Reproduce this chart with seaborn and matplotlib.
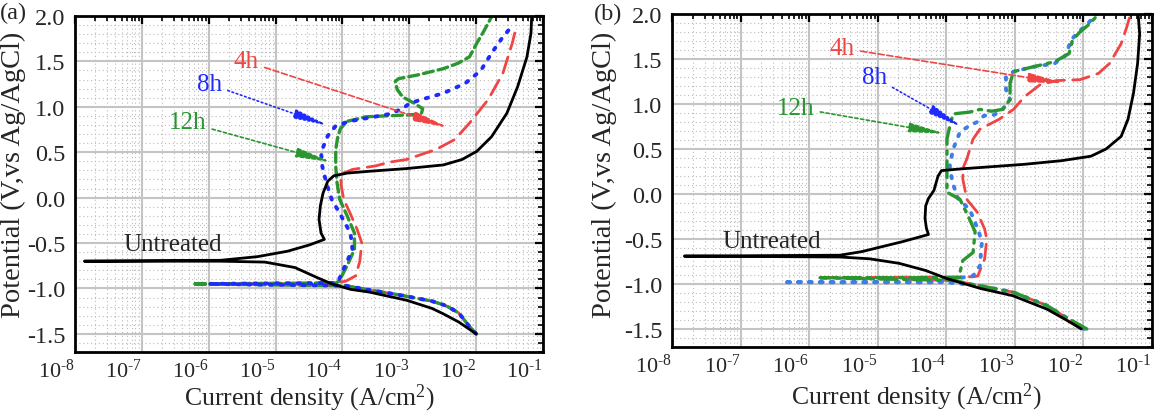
import numpy as np
import pandas as pd
import matplotlib
matplotlib.use('Agg')
import matplotlib.pyplot as plt
from matplotlib.ticker import LogLocator, MultipleLocator, FormatStrFormatter, NullFormatter
import seaborn as sns

sns.set_style('whitegrid')
plt.rcParams['font.family'] = ['Liberation Serif', 'DejaVu Serif']
plt.rcParams['mathtext.fontset'] = 'custom'
plt.rcParams['mathtext.rm'] = 'Liberation Serif'
plt.rcParams['mathtext.it'] = 'Liberation Serif:italic'
plt.rcParams['axes.unicode_minus'] = False

# ---- panel (a): log10 current density and potential (V) ----
unt_a_logi = [-2.0, -2.26, -2.49, -2.66, -3.04, -3.60, -3.88, -4.16, -4.38, -4.71, -5.16, -5.82, -7.86,
              -5.82, -5.27, -4.82, -4.49, -4.27, -4.32, -4.35, -4.33, -4.29, -4.22, -4.13, -3.93, -3.60,
              -3.04, -2.49, -2.21, -1.99, -1.77, -1.54, -1.38, -1.24, -1.18, -1.17]
unt_a_e = [-1.5, -1.37, -1.28, -1.22, -1.13, -1.04, -1.01, -0.95, -0.88, -0.77, -0.71, -0.70, -0.70,
           -0.69, -0.65, -0.59, -0.52, -0.46, -0.39, -0.24, -0.09, 0.05, 0.18, 0.24, 0.27, 0.29,
           0.32, 0.36, 0.42, 0.51, 0.67, 0.93, 1.22, 1.55, 1.81, 1.98]

red_a_logi = [-2.0, -2.1, -2.26, -2.45, -2.66, -3.16, -3.65, -3.95, -5.9, -4.1, -3.95, -3.80, -3.74, -3.71,
              -3.78, -3.88, -3.98, -4.02, -4.02, -3.85, -3.50, -3.30, -3.04, -2.60, -2.32, -2.10, -1.82,
              -1.60, -1.46, -1.40]
red_a_e = [-1.5, -1.42, -1.27, -1.19, -1.14, -1.07, -1.01, -0.97, -0.95, -0.94, -0.92, -0.86, -0.70, -0.50,
           -0.35, -0.18, -0.02, 0.14, 0.26, 0.31, 0.35, 0.39, 0.42, 0.53, 0.64, 0.82, 1.08,
           1.37, 1.70, 1.88]

blue_a_logi = [-2.0, -2.1, -2.26, -2.45, -2.66, -3.16, -3.65, -3.95, -6.0, -4.1, -4.05, -3.96, -3.85, -3.88,
               -4.02, -4.16, -4.24, -4.30, -4.32, -4.22, -4.10, -3.90, -3.60, -3.30, -3.10, -2.99, -2.77,
               -2.49, -2.16, -1.93, -1.77, -1.60, -1.45]
blue_a_e = [-1.5, -1.42, -1.27, -1.19, -1.14, -1.07, -1.01, -0.97, -0.95, -0.94, -0.90, -0.75, -0.57, -0.39,
            -0.20, -0.02, 0.16, 0.34, 0.50, 0.68, 0.79, 0.84, 0.88, 0.92, 0.98, 1.04, 1.09,
            1.15, 1.26, 1.40, 1.59, 1.77, 1.90]

green_a_logi = [-2.0, -2.1, -2.26, -2.45, -2.66, -3.16, -3.65, -3.95, -6.24, -4.1, -4.05, -3.93, -3.82, -3.82,
                -3.93, -4.04, -4.08, -4.10, -4.10, -4.07, -4.03, -3.93, -3.65, -3.35, -3.04, -2.82, -2.80,
                -2.93, -3.10, -3.18, -3.21, -3.16, -2.88, -2.49, -2.27, -2.10, -1.99, -1.88, -1.77]
green_a_e = [-1.5, -1.42, -1.27, -1.19, -1.14, -1.07, -1.01, -0.97, -0.95, -0.94, -0.92, -0.75, -0.57, -0.39,
             -0.20, -0.02, 0.16, 0.34, 0.53, 0.67, 0.76, 0.84, 0.89, 0.90, 0.91, 0.92, 0.98,
             1.04, 1.11, 1.19, 1.28, 1.31, 1.35, 1.42, 1.48, 1.55, 1.70, 1.84, 1.99]

# ---- panel (b) ----
unt_b_logi = [-2.03, -2.25, -2.53, -3.03, -3.50, -3.99, -4.30, -4.69, -5.12, -5.55, -7.82,
              -5.55, -5.23, -4.91, -4.64, -4.45, -4.26, -4.29, -4.31, -4.30, -4.26, -4.18, -4.12, -4.07,
              -3.77, -3.40, -2.86, -2.32, -1.89, -1.67, -1.45, -1.35, -1.27, -1.21, -1.18, -1.20]
unt_b_e = [-1.5, -1.40, -1.28, -1.13, -1.05, -0.94, -0.85, -0.77, -0.72, -0.70, -0.69,
           -0.68, -0.64, -0.58, -0.53, -0.49, -0.45, -0.38, -0.27, -0.13, -0.05, 0.04, 0.20, 0.26,
           0.28, 0.30, 0.33, 0.37, 0.42, 0.50, 0.64, 0.83, 1.12, 1.45, 1.78, 1.98]

red_b_logi = [-1.97, -2.30, -2.53, -3.03, -3.51, -3.90, -5.84, -3.60, -3.54, -3.44, -3.41, -3.44, -3.55,
              -3.70, -3.76, -3.75, -3.70, -3.61, -3.51, -3.23, -3.02, -2.86, -2.64, -2.40, -2.05, -1.78,
              -1.62, -1.45, -1.37, -1.32]
red_b_e = [-1.5, -1.35, -1.24, -1.09, -1.02, -0.96, -0.93, -0.92, -0.91, -0.72, -0.50, -0.39, -0.20,
           -0.06, 0.17, 0.30, 0.39, 0.61, 0.72, 0.83, 0.94, 1.08, 1.21, 1.26, 1.27, 1.34,
           1.45, 1.67, 1.85, 1.98]

blue_b_logi = [-1.99, -2.30, -2.53, -3.03, -3.51, -4.0, -6.38, -4.2, -3.61, -3.51, -3.48, -3.54, -3.66,
               -3.83, -3.91, -3.95, -3.90, -3.80, -3.66, -3.55, -3.45, -3.30, -3.18, -3.07, -3.13, -3.13,
               -3.02, -2.75, -2.42, -2.26, -2.18, -2.10, -1.94, -1.81]
blue_b_e = [-1.5, -1.35, -1.24, -1.09, -1.02, -0.98, -0.98, -0.98, -0.91, -0.80, -0.53, -0.39, -0.17,
            -0.05, 0.13, 0.31, 0.50, 0.69, 0.76, 0.80, 0.87, 0.88, 0.94, 1.05, 1.16, 1.30,
            1.36, 1.41, 1.45, 1.54, 1.71, 1.78, 1.89, 2.0]

green_b_logi = [-1.95, -2.30, -2.53, -3.03, -3.51, -3.90, -5.84, -3.80, -3.80, -3.76, -3.61, -3.58, -3.66,
                -3.80, -3.99, -3.99, -3.99, -3.95, -3.90, -3.66, -3.51, -3.34, -3.18, -3.07, -3.07, -3.02,
                -2.75, -2.42, -2.21, -2.16, -2.05, -1.91, -1.78]
green_b_e = [-1.5, -1.35, -1.24, -1.09, -1.02, -0.96, -0.93, -0.93, -0.87, -0.74, -0.65, -0.42, -0.28,
             -0.06, 0.02, 0.30, 0.61, 0.75, 0.89, 0.91, 0.94, 0.92, 0.94, 1.05, 1.23, 1.36,
             1.41, 1.47, 1.56, 1.71, 1.80, 1.89, 2.0]

# annotation anchors: (label, text log-i, text E, tip log-i, tip E)
notes_a = [('4h', -5.44, 1.50, -2.41, 0.77), ('8h', -5.99, 1.25, -4.20, 0.79), ('12h', -6.32, 0.83, -4.16, 0.39)]
notes_b = [('4h', -5.52, 1.62, -2.28, 1.23), ('8h', -5.05, 1.30, -3.76, 0.74), ('12h', -6.20, 0.96, -4.02, 0.67)]

xtick_vals = [1e-8, 1e-7, 1e-6, 1e-5, 1e-4, 1e-3, 1e-2, 1e-1]
xtick_labels = [r'$10^{\text{-}8}$', r'$10^{\text{-}7}$', r'$10^{\text{-}6}$', r'$10^{\text{-}5}$',
                r'$10^{\text{-}4}$', r'$10^{\text{-}3}$', r'$10^{\text{-}2}$', r'$10^{\text{-}1}$']

RED = '#f04545'
BLUE = '#1f2aff'
BLUE_B = '#3d7fe6'
GREEN = '#2a9630'


def curve(ax, logi, e, color, ls, lw=2.0):
    d = pd.DataFrame({'i': 10.0 ** np.array(logi), 'E': e})
    sns.lineplot(data=d, x='i', y='E', sort=False, estimator=None, ax=ax, color=color,
                 linestyle=ls, lw=lw, legend=False, dash_capstyle='round')


def style_axes(ax):
    ax.set_xscale('log')
    ax.set_xlim(1e-8, 1e-1)
    ax.set_ylim(-1.70, 2.0)
    ax.set_xticks(xtick_vals)
    ax.set_xticklabels(xtick_labels, ha='right')
    ax.xaxis.set_minor_locator(LogLocator(base=10, subs=np.arange(2, 10), numticks=100))
    ax.xaxis.set_minor_formatter(NullFormatter())
    ax.yaxis.set_major_locator(MultipleLocator(0.5))
    ax.yaxis.set_minor_locator(MultipleLocator(0.1))
    ax.yaxis.set_major_formatter(FormatStrFormatter('%.1f'))
    ax.grid(True, which='major', color='#c4c4c4', lw=1.5, ls='-')
    ax.grid(True, which='minor', color='#bbbbbb', lw=0.8, ls=(0, (1, 2.5)))
    ax.set_axisbelow(True)
    for s in ax.spines.values():
        s.set_color('black')
        s.set_linewidth(2.0)
    ax.tick_params(which='both', direction='in', top=True, right=True, color='black')
    ax.tick_params(which='major', length=6, width=1.6)
    ax.tick_params(which='minor', length=3.5, width=1.2)
    ax.tick_params(axis='x', which='major', labelsize=16, pad=5)
    ax.tick_params(axis='y', which='major', labelsize=17.5, pad=7)
    ax.set_xlabel('Current density (A/cm$^2$)', fontsize=18.5)
    ax.set_ylabel('Potential (V,vs Ag/AgCl)', fontsize=20.5)


def annotate(ax, notes, colors, styles):
    for (lab, tx, ty, px, py), c, s in zip(notes, colors, styles):
        ax.annotate(lab, xy=(10.0 ** px, py), xytext=(10.0 ** tx, ty), color=c, fontsize=18,
                    ha='center', va='center',
                    arrowprops=dict(arrowstyle='-|>,head_length=1.2,head_width=0.16', color=c,
                                    lw=1.2, ls=s, shrinkA=2, shrinkB=0))


fig = plt.figure(figsize=(11.61, 4.14), dpi=100)
ax1 = fig.add_axes([75 / 1161, 1 - 353 / 414, 468 / 1161, 336 / 414])
ax2 = fig.add_axes([672 / 1161, 1 - 348 / 414, 480 / 1161, 333 / 414])

curve(ax1, red_a_logi, red_a_e, RED, (0, (6, 3)), 2.0)
curve(ax1, green_a_logi, green_a_e, GREEN, (0, (3, 1.5)), 2.4)
curve(ax1, blue_a_logi, blue_a_e, BLUE, (0, (0.6, 2.2)), 2.8)
curve(ax1, unt_a_logi, unt_a_e, 'black', '-', 2.0)

curve(ax2, red_b_logi, red_b_e, RED, (0, (6, 3)), 2.0)
curve(ax2, blue_b_logi, blue_b_e, BLUE_B, (0, (0.6, 2.2)), 2.8)
curve(ax2, green_b_logi, green_b_e, GREEN, (0, (5, 2, 1, 2)), 2.4)
curve(ax2, unt_b_logi, unt_b_e, 'black', '-', 2.0)

for ax in (ax1, ax2):
    style_axes(ax)

annotate(ax1, notes_a, [RED, BLUE, GREEN], ['--', ':', (0, (2, 1.5))])
annotate(ax2, notes_b, [RED, BLUE, GREEN], ['--', ':', (0, (2, 1.5))])

ax1.text(10 ** -7.27, -0.51, 'Untreated', fontsize=18, ha='left', va='center')
ax2.text(10 ** -7.26, -0.52, 'Untreated', fontsize=18, ha='left', va='center')

ax1.xaxis.set_label_coords(0.5, -0.088)
ax2.xaxis.set_label_coords(0.51, -0.102)
ax1.yaxis.set_label_coords(-0.105, 0.53)
ax2.yaxis.set_label_coords(-0.115, 0.52)

fig.text(0.0, 1 - 13 / 414, '(a)', fontsize=17.5, ha='left', va='center')
fig.text(594 / 1161, 1 - 14 / 414, '(b)', fontsize=17.5, ha='left', va='center')

fig.savefig('out.png', dpi=100)
